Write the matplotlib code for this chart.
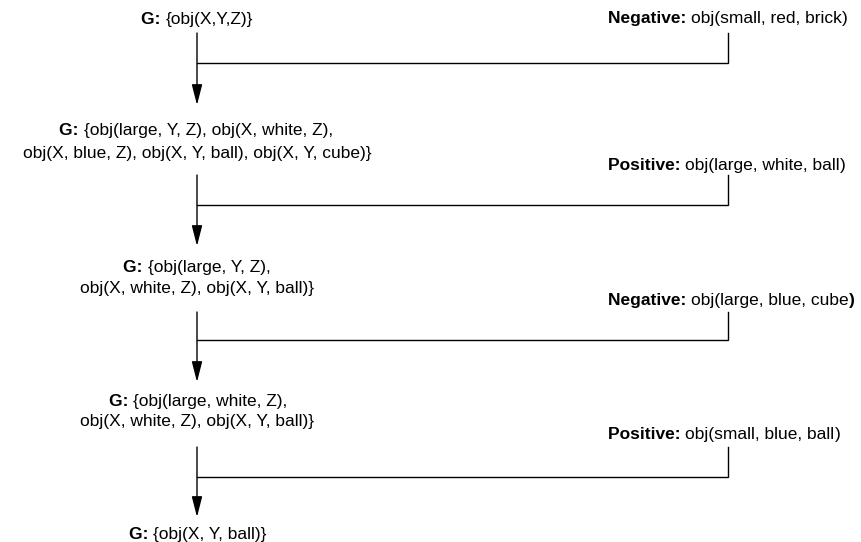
import matplotlib
matplotlib.use("Agg")
from matplotlib import pyplot as plt

plt.rcParams['font.family'] = ['Liberation Sans', 'DejaVu Sans']

# hypothesis set G after each step (one list of lines per step)
g_lines = [
    ["{obj(X,Y,Z)}"],
    ["{obj(large, Y, Z), obj(X, white, Z),", "obj(X, blue, Z), obj(X, Y, ball), obj(X, Y, cube)}"],
    ["{obj(large, Y, Z),", "obj(X, white, Z), obj(X, Y, ball)}"],
    ["{obj(large, white, Z),", "obj(X, white, Z), obj(X, Y, ball)}"],
    ["{obj(X, Y, ball)}"],
]

# training examples between the steps
ex_kinds = ["Negative", "Positive", "Negative", "Positive"]
ex_objs = ["obj(small, red, brick", "obj(large, white, ball", "obj(large, blue, cube", "obj(small, blue, ball"]
ex_bold_close = [False, False, True, False]

# layout (pixels, y downwards; text y is the baseline)
main_x = 197
side_x = 728
ex_x0 = 608
g_y = [[24], [135, 158], [272, 293], [406, 426], [539]]
g_cx = [[197], [196, 197], [197, 197], [198, 197], [198]]
ex_y = [23, 170, 305, 439]
stem_top = [33, 175, 312, 447]
join_y = [63, 205, 340, 477]
tip_y = [105, 246, 382, 517]

FS = 12.5

fig = plt.figure(figsize=(8.62, 5.42), dpi=100)
ax = fig.add_axes([0, 0, 1, 1])
ax.set_xlim(0, 862)
ax.set_ylim(542, 0)
ax.axis('off')
renderer = fig.canvas.get_renderer()


def width_of(txt, weight):
    t = ax.text(0, 0, txt, fontsize=FS, fontweight=weight)
    w = t.get_window_extent(renderer).width
    t.remove()
    return w


def rich(x, y, parts, center=False):
    # parts: list of (text, weight); draws them one after another
    total = sum(width_of(s, w) for s, w in parts)
    if center:
        x = x - total / 2
    for s, w in parts:
        ax.text(x, y, s, fontsize=FS, fontweight=w, ha='left', va='baseline')
        x += width_of(s, w)


for i, lines in enumerate(g_lines):
    for j, line in enumerate(lines):
        if j == 0:
            parts = [("G: ", 'bold'), (line, 'normal')]
        else:
            parts = [(line, 'normal')]
        rich(g_cx[i][j], g_y[i][j], parts, center=True)

for i in range(len(ex_kinds)):
    parts = [(ex_kinds[i] + ": ", 'bold'), (ex_objs[i], 'normal'),
             (")", 'bold' if ex_bold_close[i] else 'normal')]
    rich(ex_x0, ex_y[i], parts)

    ax.plot([side_x, side_x, main_x], [stem_top[i], join_y[i], join_y[i]],
            color='black', lw=1, solid_joinstyle='miter')
    ax.annotate('', xy=(main_x, tip_y[i]), xytext=(main_x, stem_top[i]),
                arrowprops=dict(arrowstyle='-|>,head_length=1.25,head_width=0.32',
                                mutation_scale=10, lw=1, color='black',
                                shrinkA=0, shrinkB=0))

fig.savefig("out.png", dpi=100)
